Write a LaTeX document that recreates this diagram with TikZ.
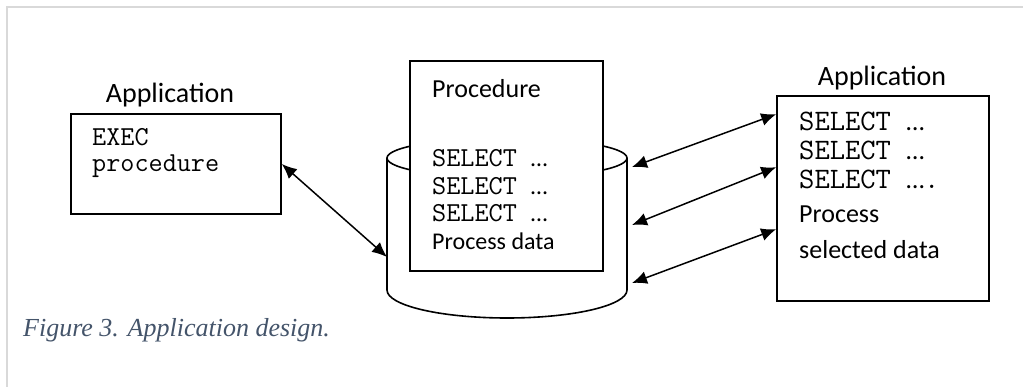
\documentclass[tikz,border=0pt]{standalone}
\usepackage{fontspec}
\setmainfont{Carlito}
\newfontfamily\capfont{Liberation Serif}
\usetikzlibrary{arrows.meta}
\definecolor{capblue}{HTML}{44546A}
\definecolor{framegray}{HTML}{D9D9D9}

\begin{document}
\begin{tikzpicture}[
		x=1pt, y=-1pt,
		box/.style={draw, line width=1.6pt, fill=white, inner sep=0pt},
		title/.style={font=\fontsize{28}{30}\selectfont, anchor=base, inner sep=0pt},
		txt/.style={anchor=base west, inner sep=0pt},
		small/.style={font=\fontsize{24}{26}\selectfont},
		big/.style={font=\fontsize{26}{28}\selectfont},
		smalltt/.style={font=\ttfamily\fontsize{27.4}{29}\selectfont},
		bigtt/.style={font=\ttfamily\fontsize{29.7}{31}\selectfont},
		link/.style={line width=1.5pt, {Latex[length=15pt,width=13pt]}-{Latex[length=15pt,width=13pt]}}
	]
	\useasboundingbox (0,0) rectangle (1023,387);
	\draw[framegray, line width=2pt] (7,387) -- (7,7) -- (1023,7);

	% database
	\draw[line width=1.6pt] (387,158) -- (387,290)
		arc[start angle=180, end angle=360, x radius=120pt, y radius=28pt] -- (627,158);
	\draw[line width=1.6pt] (507,158) ellipse [x radius=120pt, y radius=20pt];

	% procedure in the database
	\node[box, minimum width=193pt, minimum height=210pt] (proc) at (506.5,166) {};
	\node[txt, big] (proctitle) at (432,98) {Procedure};
	\foreach \y [count=\i] in {167,195,222}
		\node[txt, smalltt] (psel\i) at (432,\y) {SELECT\ {\rmfamily\fontsize{24}{26}\selectfont …}};
	\node[txt, small] (pdata) at (432,250) {Process data};

	% left application
	\node[box, minimum width=210pt, minimum height=100pt] (app1) at (176,164) {};
	\node[title] (app1title) at (170,103) {Application};
	\node[txt, smalltt] (exec) at (92,146) {EXEC};
	\node[txt, smalltt] (execproc) at (92,172) {procedure};

	% right application
	\node[box, minimum width=212pt, minimum height=205pt] (app2) at (883,198.5) {};
	\node[title] (app2title) at (882,86) {Application};
	\node[txt, bigtt] (asel1) at (799,131) {SELECT\ {\rmfamily\fontsize{26}{28}\selectfont …}};
	\node[txt, bigtt] (asel2) at (799,160) {SELECT\ {\rmfamily\fontsize{26}{28}\selectfont …}};
	\node[txt, bigtt] (asel3) at (799,189) {SELECT\ {\rmfamily\fontsize{26}{28}\selectfont …}.};
	\node[txt, big] (aproc) at (799,223) {Process};
	\node[txt, big] (adata) at (799,259) {selected data};

	% links
	\coordinate (dbL) at (387,257);
	\draw[link] (app1.east) -- (dbL);
	\foreach \i/\dy/\yb in {1/19/167, 2/72/225, 3/134/283} {
		\coordinate (dbR\i) at (632,\yb);
		\draw[link] ([yshift=-\dy pt]app2.north west) -- (dbR\i);
	}

	\node[txt, text=capblue, font=\capfont\itshape\fontsize{26}{28}\selectfont] (caption) at (23,337)
		{Figure 3. Application design.};
\end{tikzpicture}
\end{document}
